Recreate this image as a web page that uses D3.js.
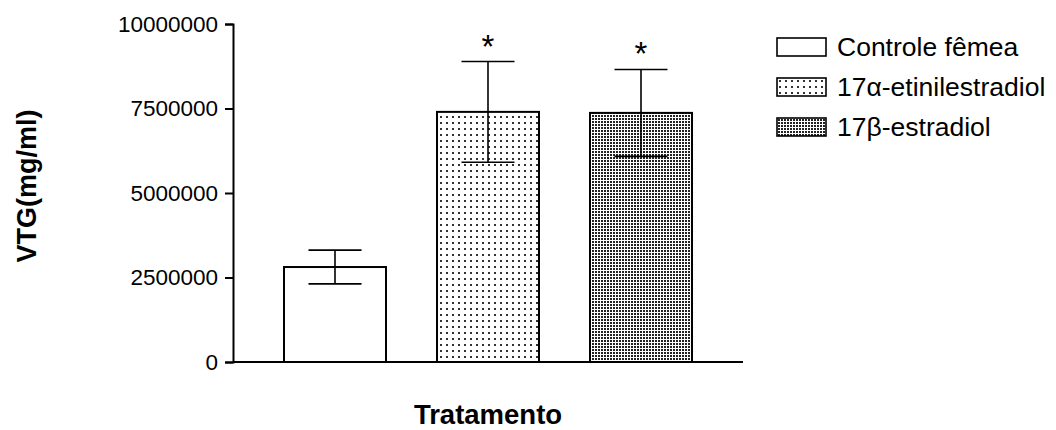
<!DOCTYPE html>
<html>
<head>
<meta charset="utf-8">
<script src="https://cdn.jsdelivr.net/npm/d3@7/dist/d3.min.js"></script>
<style>
  body { margin: 0; background: #fff; }
  svg { display: block; font-family: "Liberation Sans", Arial, sans-serif; }
</style>
</head>
<body>
<svg id="chart" width="1056" height="430"></svg>
<script>
// Treatment groups, mean VTG and standard error
const groups = ["Controle fêmea", "17α-etinilestradiol", "17β-estradiol"];
const means = [2810000, 7400000, 7370000];
const errors = [500000, 1490000, 1285000];
const significant = [false, true, true];
const yTicks = [0, 2500000, 5000000, 7500000, 10000000];
const fills = ["#ffffff", "url(#dotsSparse)", "url(#dotsDense)"];

const svg = d3.select("#chart");

// Dot fill patterns
const defs = svg.append("defs");
const p1 = defs.append("pattern").attr("id", "dotsSparse")
  .attr("patternUnits", "userSpaceOnUse").attr("width", 6).attr("height", 6);
p1.append("rect").attr("width", 6).attr("height", 6).attr("fill", "#fff");
p1.append("rect").attr("x", 2).attr("y", 2).attr("width", 2).attr("height", 2).attr("fill", "#333");

const p2 = defs.append("pattern").attr("id", "dotsDense")
  .attr("patternUnits", "userSpaceOnUse").attr("width", 3).attr("height", 3);
p2.append("rect").attr("width", 3).attr("height", 3).attr("fill", "#fff");
p2.append("rect").attr("x", 1).attr("y", 1).attr("width", 2).attr("height", 2).attr("fill", "#222");

const x0 = 233, x1 = 743, yTop = 24, yBot = 362;

const x = d3.scaleBand().domain(groups).range([x0, x1])
  .paddingInner(1 / 3).paddingOuter(1 / 3);
const y = d3.scaleLinear().domain([0, 10000000]).range([yBot, yTop]);

// Bars
svg.append("g").selectAll("rect").data(groups).join("rect")
  .attr("x", d => x(d))
  .attr("y", (d, i) => y(means[i]))
  .attr("width", x.bandwidth())
  .attr("height", (d, i) => y(0) - y(means[i]))
  .attr("fill", (d, i) => fills[i])
  .attr("stroke", "#000").attr("stroke-width", 2);

// Error bars and significance marks
const capHalf = 26.5;
const eb = svg.append("g").attr("stroke", "#000").attr("stroke-width", 1.6);
groups.forEach((g, i) => {
  const cx = x(g) + x.bandwidth() / 2;
  const hi = y(means[i] + errors[i]), lo = y(means[i] - errors[i]);
  eb.append("line").attr("x1", cx).attr("x2", cx).attr("y1", hi).attr("y2", lo);
  eb.append("line").attr("x1", cx - capHalf).attr("x2", cx + capHalf).attr("y1", hi).attr("y2", hi);
  eb.append("line").attr("x1", cx - capHalf).attr("x2", cx + capHalf).attr("y1", lo).attr("y2", lo);
  if (significant[i]) {
    svg.append("text").attr("x", cx).attr("y", hi - 4)
      .attr("text-anchor", "middle").attr("font-size", 33)
      .text("*");
  }
});

// Y axis
const yAxis = svg.append("g").attr("transform", `translate(${x0},0)`)
  .call(d3.axisLeft(y).tickValues(yTicks).tickFormat(d3.format("d")).tickSizeOuter(0).tickSize(8).tickPadding(7));
yAxis.select(".domain").attr("stroke-width", 2);
yAxis.selectAll(".tick line").attr("stroke-width", 2);
yAxis.selectAll("text").attr("font-size", 22.5).attr("font-family", "Liberation Sans, Arial, sans-serif").attr("fill", "#000");

// X axis baseline
svg.append("line").attr("x1", x0).attr("x2", x1).attr("y1", yBot).attr("y2", yBot)
  .attr("stroke", "#000").attr("stroke-width", 2);

// Axis titles
svg.append("text").attr("transform", `translate(36,186) rotate(-90)`)
  .attr("text-anchor", "middle").attr("font-size", 27).attr("font-weight", "bold")
  .text("VTG(mg/ml)");
svg.append("text").attr("x", (x0 + x1) / 2).attr("y", 424)
  .attr("text-anchor", "middle").attr("font-size", 27.5).attr("font-weight", "bold")
  .text("Tratamento");

// Legend
const legend = svg.append("g").attr("transform", "translate(777,38)");
groups.forEach((g, i) => {
  const row = legend.append("g").attr("transform", `translate(0,${i * 40})`);
  row.append("rect").attr("width", 49).attr("height", 18)
    .attr("fill", fills[i]).attr("stroke", "#000").attr("stroke-width", 1.6);
  row.append("text").attr("x", 60).attr("y", 18).attr("font-size", 26.5).text(g);
});
</script>
</body>
</html>
